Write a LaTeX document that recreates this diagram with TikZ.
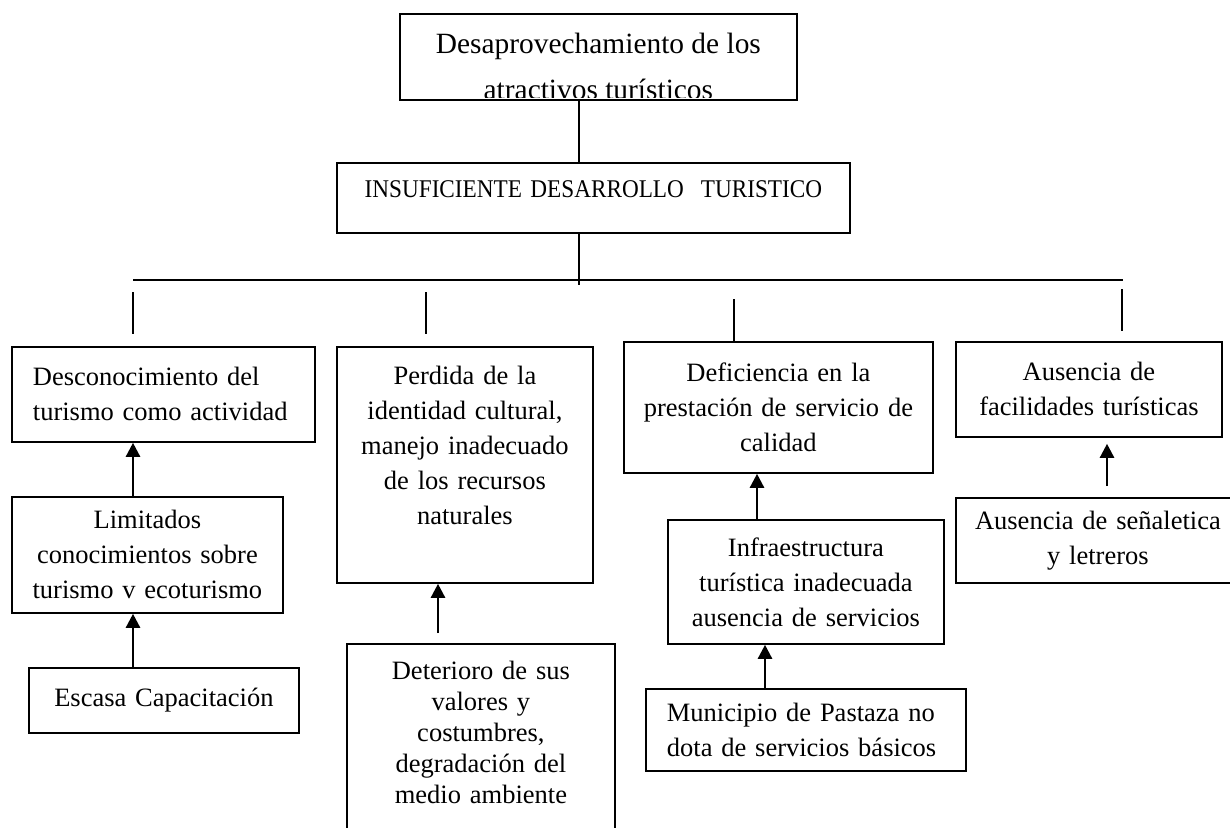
\documentclass[tikz,border=0pt]{standalone}
\usepackage{fontspec}
\setmainfont{Liberation Serif}
\newfontfamily\condensada[FakeStretch=0.91]{Liberation Serif}
\usetikzlibrary{arrows.meta}

\tikzset{
  caja/.style={draw, line width=1.8pt, inner sep=0pt, anchor=north west, align=center,
    font=\fontsize{26.5}{35}\selectfont},
  enlace/.style={line width=1.5pt},
  flecha/.style={line width=2.5pt, -{Triangle[length=14pt, width=14pt]}},
}

\begin{document}
\begin{tikzpicture}[x=1pt, y=-1pt]
    \path[use as bounding box, clip] (0,0) rectangle (1230,827);
    % efecto y problema central
    \node[caja, text width=397pt, minimum height=86pt] (efecto) at (399,13) {};
    \begin{scope}
        \clip ([yshift=3pt]efecto.south west) rectangle (efecto.north east);
        \node[inner sep=0pt, anchor=north, align=center, font=\fontsize{29.4}{46}\selectfont]
            (efectotexto) at ([yshift=-20pt]efecto.north) {Desaprovechamiento de los\\atractivos turísticos};
    \end{scope}
    \node[caja, text width=513pt, minimum height=70pt, text height=0pt, text depth=0pt,
        font=\condensada\fontsize{25.5}{30}\selectfont] (problema) at (336,162) {INSUFICIENTE DESARROLLO\ \ TURISTICO};
    % causas
    \node[caja, text width=261pt, inner xsep=21pt, minimum height=95pt, align=left] (desconoc) at (11,346)
        {Desconocimiento del\\turismo como actividad};
    \node[caja, text width=256pt, minimum height=236pt] (perdida) at (336,346)
        {Perdida de la\\identidad cultural,\\manejo inadecuado\\de los recursos\\naturales\\[5pt]\mbox{}};
    \node[caja, text width=309pt, minimum height=131pt] (deficiencia) at (623,341)
        {Deficiencia en la\\prestación de servicio de\\calidad};
    \node[caja, text width=266pt, minimum height=95pt] (ausencia) at (955,341)
        {Ausencia de\\facilidades turísticas};
    % subcausas
    \node[caja, text width=271pt, minimum height=116pt] (limitados) at (11,496)
        {Limitados\\conocimientos sobre\\turismo v ecoturismo};
    \node[caja, text width=270pt, minimum height=65pt] (escasa) at (28,667) {Escasa Capacitación};
    \node[caja, text width=268pt, minimum height=230pt, font=\fontsize{26.5}{31}\selectfont] (deterioro) at (346,643)
        {Deterioro de sus\\valores y\\costumbres,\\degradación del\\medio ambiente\\[22pt]\mbox{}};
    \node[caja, text width=276pt, minimum height=124pt] (infra) at (667,519)
        {Infraestructura\\turística inadecuada\\ausencia de servicios};
    \node[caja, text width=278pt, inner xsep=21pt, minimum height=82pt, align=left] (municipio) at (645,688)
        {Municipio de Pastaza no\\dota de servicios básicos};
    \node[caja, text width=284pt, minimum height=85pt] (senaletica) at (955,497)
        {Ausencia de señaletica\\y letreros};
    % tronco y barra
    \coordinate (tronco) at (579,0);
    \draw[enlace] (efecto.south -| tronco) -- (problema.north -| tronco);
    \draw[enlace] (problema.south -| tronco) -- ++(0,51);
    \coordinate (barraI) at (133,280);
    \coordinate (barraD) at (1123,280);
    \draw[line width=2.2pt] (barraI) -- (barraD);
    % bajantes
    \coordinate (b1) at (133,292);
    \coordinate (b2) at (426,292);
    \coordinate (b3) at (734,299);
    \coordinate (b4) at (1122,289);
    \foreach \b in {b1,b2,b3,b4}
        \draw[enlace] (\b) -- ++(0,42);
    % flechas
    \coordinate (ejeA) at (133,0);
    \coordinate (ejeB) at (438,0);
    \coordinate (ejeC) at (757,0);
    \coordinate (ejeD) at (765,0);
    \coordinate (ejeE) at (1107,0);
    \draw[flecha] (limitados.north -| ejeA) -- (desconoc.south -| ejeA);
    \draw[flecha] (escasa.north -| ejeA) -- (limitados.south -| ejeA);
    \draw[flecha, shorten <=10pt] (deterioro.north -| ejeB) -- (perdida.south -| ejeB);
    \draw[flecha] (infra.north -| ejeC) -- (deficiencia.south -| ejeC);
    \draw[flecha] (municipio.north -| ejeD) -- (infra.south -| ejeD);
    \draw[flecha, shorten <=11pt, shorten >=6pt] (senaletica.north -| ejeE) -- (ausencia.south -| ejeE);
\end{tikzpicture}
\end{document}
